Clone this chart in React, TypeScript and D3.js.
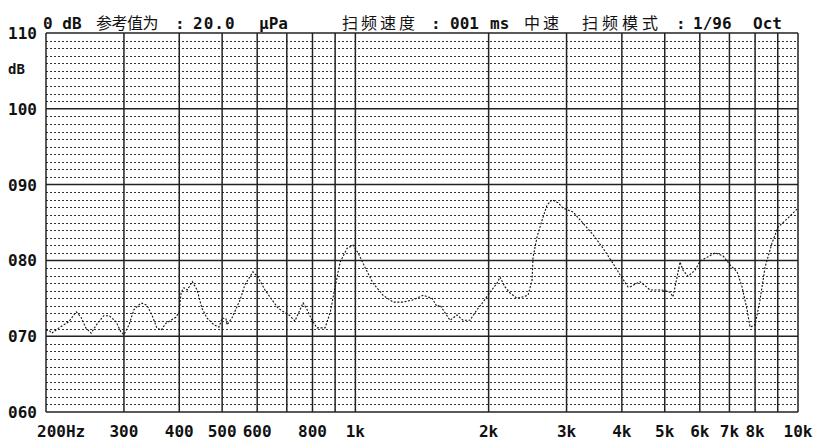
import React from "react";
import * as d3 from "d3";

// Measured response curve (frequency in Hz, level in dB)
const freqs = [
  200, 203, 206, 214, 225, 234, 240, 246, 253, 260, 270, 278, 288, 295, 300, 308, 316, 328, 338, 347,
  356, 364, 373, 383, 393, 400, 404, 410, 417, 428, 439, 450, 462, 479, 492, 500, 510, 513, 526, 549,
  563, 587, 602, 625, 648, 669, 693, 712, 730, 750, 762, 778, 798, 819, 854, 877, 900, 924, 958, 988,
  1014, 1051, 1096, 1155, 1217, 1283, 1352, 1424, 1490, 1529, 1553, 1636, 1697, 1751, 1815, 1883, 1943, 2015, 2089, 2122,
  2178, 2236, 2318, 2392, 2455, 2507, 2520, 2573, 2641, 2710, 2782, 2870, 2946, 3103, 3269, 3443, 3627, 3801, 3963, 4130,
  4174, 4397, 4631, 4930, 5139, 5220, 5330, 5413, 5498, 5643, 5853, 6007, 6230, 6495, 6771, 7022, 7283, 7475, 7672, 7793,
  7998, 8209, 8425, 8737, 9014, 9496, 10000,
];
const levels = [
  70.8, 70.8, 70.4, 71.1, 71.9, 73.2, 72.5, 71.1, 70.4, 71.5, 72.7, 72.7, 71.9, 70.6, 70.2, 71.5, 73.5, 74.4, 74.1, 72.8,
  71.1, 70.8, 71.7, 72.1, 72.5, 73.2, 75.8, 76.4, 76.1, 77.2, 76.1, 73.7, 72.4, 71.5, 71.2, 72.4, 72.3, 71.5, 72.4, 74.8,
  76.8, 78.5, 77.8, 76.1, 74.8, 73.7, 73.1, 72.7, 72.0, 73.5, 74.4, 73.5, 72.1, 71.1, 71.1, 73.1, 76.5, 79.8, 81.6, 82.0,
  81.0, 79.1, 77.0, 75.4, 74.5, 74.5, 74.8, 75.4, 75.0, 73.9, 74.1, 72.1, 72.8, 72.1, 72.1, 73.5, 74.5, 75.8, 77.0, 77.8,
  76.5, 75.7, 75.0, 75.2, 75.4, 77.4, 80.4, 83.1, 85.3, 87.3, 88.0, 87.6, 86.9, 86.4, 84.9, 83.4, 81.6, 79.8, 78.1, 76.5,
  76.5, 77.2, 76.1, 76.1, 75.8, 75.2, 77.8, 79.8, 78.7, 77.9, 78.7, 79.9, 80.4, 81.0, 80.6, 79.4, 78.5, 76.5, 73.5, 71.2,
  71.5, 74.8, 79.1, 82.3, 84.4, 85.6, 86.9,
];

const yMajor = [60, 70, 80, 90, 100, 110];
const yMajorLabels = ["060", "070", "080", "090", "100", "110"];
const gridFreqs = [200, 300, 400, 500, 600, 700, 800, 900, 1000, 2000, 3000, 4000, 5000, 6000, 7000, 8000, 9000, 10000];
const xLabelFreqs = [200, 300, 400, 500, 600, 800, 1000, 2000, 3000, 4000, 5000, 6000, 7000, 8000, 10000];
const xLabels = ["200Hz", "300", "400", "500", "600", "800", "1k", "2k", "3k", "4k", "5k", "6k", "7k", "8k", "10k"];

const W = 822;
const H = 443;
const M = { left: 46, right: 24, top: 33, bottom: 31 };

const MONO = "'DejaVu Sans Mono', 'Liberation Mono', monospace";
const CJK = "'Noto Sans CJK SC', 'Noto Sans', sans-serif";

export default function App() {
  const x = d3.scaleLog().domain([200, 10000]).range([M.left, W - M.right]);
  const y = d3.scaleLinear().domain([60, 110]).range([H - M.bottom, M.top]);
  const minor = d3.range(61, 110).filter((v) => v % 10 !== 0);

  const line = d3
    .line<number>()
    .x((_, i) => x(freqs[i]))
    .y((d) => y(d));

  const txt = { fontFamily: MONO, fontWeight: 700, fontSize: 16, fill: "#111" } as const;
  const cjk = { fontFamily: CJK, fontWeight: 400, fontSize: 16, fill: "#111" } as const;

  return (
    <svg
      width={W}
      height={H}
      style={{ position: "absolute", left: 0, top: 0, background: "#fff" }}
    >
      <rect x={0} y={0} width={W} height={H} fill="#fff" />
      {/* minor dotted lines */}
      {minor.map((v) => (
        <line
          key={"m" + v}
          x1={M.left}
          x2={W - M.right}
          y1={Math.round(y(v)) + 0.5}
          y2={Math.round(y(v)) + 0.5}
          stroke="#333"
          strokeWidth={1}
          strokeDasharray="2 2"
        />
      ))}
      {/* major horizontal lines */}
      {yMajor.map((v) => (
        <line
          key={"M" + v}
          x1={M.left}
          x2={W - M.right}
          y1={y(v)}
          y2={y(v)}
          stroke="#222"
          strokeWidth={1.5}
        />
      ))}
      {/* vertical frequency lines */}
      {gridFreqs.map((f) => (
        <line
          key={"v" + f}
          x1={x(f)}
          x2={x(f)}
          y1={M.top}
          y2={H - M.bottom}
          stroke="#222"
          strokeWidth={1.5}
        />
      ))}
      {/* curve */}
      <path
        d={line(levels) || ""}
        fill="none"
        stroke="#111"
        strokeWidth={1.1}
        strokeDasharray="2 1.6"
      />
      {/* y labels */}
      {yMajor.map((v, i) => (
        <text key={"yl" + v} x={8} y={y(v) + 6} {...txt}>
          {yMajorLabels[i]}
        </text>
      ))}
      <text x={8} y={74} {...txt} fontSize={14}>
        dB
      </text>
      {/* x labels */}
      {xLabelFreqs.map((f, i) =>
        i === 0 ? (
          <text key={"xl" + f} x={x(f) - 9} y={437} {...txt}>
            {xLabels[i]}
          </text>
        ) : (
          <text key={"xl" + f} x={x(f)} y={437} {...txt} textAnchor="middle">
            {xLabels[i]}
          </text>
        )
      )}
      {/* header */}
      <text x={43} y={29} {...txt}>0 dB</text>
      <text x={96} y={29} {...cjk} letterSpacing={-0.5}>参考值为</text>
      <text x={175} y={29} {...txt}>:</text>
      <text x={193} y={29} {...txt} letterSpacing={1}>20.0</text>
      <text x={259} y={29} {...txt}>μPa</text>
      <text x={342} y={29} {...cjk} letterSpacing={3}>扫频速度</text>
      <text x={431} y={29} {...txt}>:</text>
      <text x={450} y={29} {...txt}>001</text>
      <text x={490} y={29} {...txt}>ms</text>
      <text x={524} y={29} {...cjk} letterSpacing={3}>中速</text>
      <text x={582} y={29} {...cjk} letterSpacing={4}>扫频模式</text>
      <text x={676} y={29} {...txt}>:</text>
      <text x={693} y={29} {...txt}>1/96</text>
      <text x={753} y={29} {...txt}>Oct</text>
    </svg>
  );
}
